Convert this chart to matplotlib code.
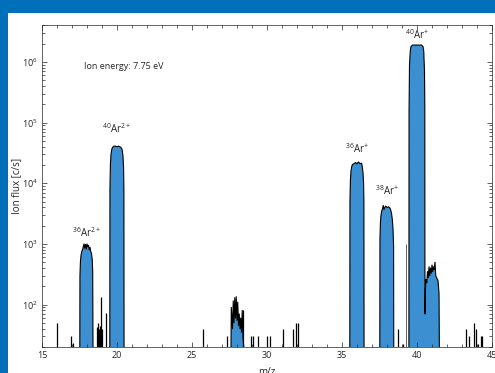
import numpy as np
import matplotlib
matplotlib.use('Agg')
import matplotlib.pyplot as plt
from matplotlib.patches import Rectangle
from matplotlib.ticker import LogLocator, FixedLocator, MultipleLocator, FuncFormatter

plt.rcParams['font.family'] = ['Open Sans', 'DejaVu Sans']
plt.rcParams['mathtext.fontset'] = 'custom'
plt.rcParams['mathtext.rm'] = 'Open Sans'
plt.rcParams['mathtext.it'] = 'Open Sans'
plt.rcParams['mathtext.bf'] = 'Open Sans'

# Peak outlines (m/z, ion flux)
ar36_2_mz = [17.52, 17.53, 17.56, 17.60, 17.65, 17.70, 17.75, 17.80, 17.85, 17.90, 17.95,
             18.00, 18.05, 18.10, 18.15, 18.20, 18.25, 18.30, 18.35, 18.38, 18.40]
ar36_2_flux = [20, 300, 500, 650, 750, 800, 900, 1000, 850, 980, 820,
               1000, 900, 950, 800, 880, 750, 700, 550, 350, 20]

ar40_2_mz = [19.52, 19.53, 19.56, 19.60, 19.65, 19.70, 19.80, 19.90, 20.00,
             20.10, 20.20, 20.30, 20.35, 20.40, 20.44, 20.46, 20.47]
ar40_2_flux = [20, 8000, 20000, 30000, 36000, 39000, 41000, 41000, 40000,
               41000, 40000, 38000, 35000, 28000, 18000, 8000, 20]

m28_mz = [27.60, 27.62, 27.70, 27.75, 27.80, 27.85, 27.90, 27.95, 28.00, 28.05,
          28.10, 28.15, 28.20, 28.25, 28.30, 28.35, 28.40, 28.45]
m28_flux = [20, 90, 40, 115, 50, 130, 60, 135, 55, 110,
            45, 70, 40, 60, 35, 80, 30, 20]

ar36_mz = [35.52, 35.53, 35.56, 35.60, 35.65, 35.70, 35.80, 35.90, 36.00,
           36.10, 36.20, 36.30, 36.35, 36.40, 36.44, 36.46, 36.47]
ar36_flux = [20, 5000, 11000, 16000, 19000, 20500, 21000, 22000, 21000,
             22500, 21000, 21500, 19000, 15000, 10000, 5000, 20]

ar38_mz = [37.52, 37.53, 37.56, 37.60, 37.65, 37.70, 37.75, 37.80, 37.90, 38.00,
           38.10, 38.20, 38.25, 38.30, 38.35, 38.40, 38.44, 38.45]
ar38_flux = [20, 1200, 2200, 3000, 3500, 3800, 4300, 3700, 4200, 4000,
             4100, 3900, 3600, 3200, 2600, 1800, 900, 20]

ar40_mz = [39.46, 39.47, 39.50, 39.55, 39.60, 39.70, 39.80, 39.90, 40.00, 40.10,
           40.20, 40.30, 40.40, 40.45, 40.50, 40.52, 40.53,
           40.56, 40.60, 40.65, 40.70, 40.75, 40.80, 40.85, 40.90, 40.95,
           41.00, 41.05, 41.10, 41.15, 41.20, 41.25, 41.30, 41.40, 41.47, 41.49]
ar40_flux = [20, 150000, 900000, 1500000, 1800000, 1900000, 1900000, 1900000, 1900000, 1900000,
             1900000, 1900000, 1800000, 1500000, 700000, 200000, 70,
             180, 260, 230, 350, 280, 420, 300, 400, 330,
             450, 350, 420, 380, 500, 300, 280, 250, 150, 20]

# background spikes (m/z, top of spike)
spike_mz = [15.98, 16.91, 17.05, 18.64, 18.70, 18.76, 18.82, 18.87, 18.91, 18.95, 19.00, 19.24,
            25.73, 27.31, 28.38, 28.91, 29.07, 29.38, 30.00, 30.20, 31.04, 31.71, 31.93, 32.09,
            38.76, 39.07, 43.27, 43.49, 43.82, 43.93, 44.09, 44.24, 44.36]
spike_top = [50, 30, 23, 42, 30, 50, 40, 45, 135, 40, 40, 74,
             40, 30, 80, 30, 30, 30, 30, 30, 40, 40, 50, 50,
             40, 22, 40, 30, 50, 40, 22, 30, 30]

thin_mz = 39.27
thin_top = 1000

labels = [(18.0, 1150, r'$^{36}$Ar$^{2+}$'), (20.0, 60000, r'$^{40}$Ar$^{2+}$'),
          (36.0, 28000, r'$^{36}$Ar$^{+}$'), (38.0, 5800, r'$^{38}$Ar$^{+}$'),
          (40.0, 2100000, r'$^{40}$Ar$^{+}$')]

fill_color = '#3c8fd0'
frame_blue = '#0070ba'
ybot = 20

fig = plt.figure(figsize=(4.95, 3.73), dpi=100)
fig.patch.set_facecolor(frame_blue)
bg = Rectangle((8 / 495, 0), 1, 360 / 373, transform=fig.transFigure,
               facecolor='white', edgecolor='none', zorder=-10)
fig.patches.append(bg)

ax = fig.add_axes([42 / 495, 26 / 373, 450 / 495, 322 / 373])
ax.set_zorder(5)
ax.patch.set_alpha(0)
ax.set_yscale('log')

for mz, flux in [(ar36_2_mz, ar36_2_flux), (ar40_2_mz, ar40_2_flux), (m28_mz, m28_flux),
                 (ar36_mz, ar36_flux), (ar38_mz, ar38_flux), (ar40_mz, ar40_flux)]:
    ax.fill_between(mz, ybot, flux, facecolor=fill_color, edgecolor='none')
    ax.plot(mz, flux, color='black', lw=0.8)

ax.vlines(spike_mz, ybot, spike_top, color='black', lw=0.9)
ax.vlines([thin_mz], ybot, [thin_top], color='#444444', lw=0.6)

for x, y, s in labels:
    ax.text(x, y, s, ha='center', va='bottom', fontsize=7, color='#262626')

ax.text(17.8, 8.3e5, 'Ion energy: 7.75 eV', fontsize=6.5, va='center', color='#262626')

ax.set_xlim(15, 45)
ax.set_ylim(ybot, 4.07e6)
ax.xaxis.set_major_locator(MultipleLocator(5))
ax.xaxis.set_minor_locator(MultipleLocator(1))
ax.yaxis.set_major_locator(FixedLocator([1e2, 1e3, 1e4, 1e5, 1e6]))
ax.yaxis.set_minor_locator(LogLocator(base=10, subs=np.arange(2, 10)))
ax.yaxis.set_major_formatter(FuncFormatter(lambda v, p: r'10$^{%d}$' % round(np.log10(v))))
ax.tick_params(which='both', direction='in', top=True, right=True, colors='#262626',
               labelsize=6.5, width=0.5)
ax.tick_params(which='major', length=3.5, pad=3)
ax.tick_params(which='minor', length=2.5)
for s in ax.spines.values():
    s.set_linewidth(0.5)
    s.set_color('#262626')

ax.set_xlabel('m/z', fontsize=7, color='#262626', labelpad=5)
ax.set_ylabel('Ion flux [c/s]', fontsize=7, color='#262626', labelpad=0)

fig.savefig('out.png', dpi=100, facecolor=fig.get_facecolor())
